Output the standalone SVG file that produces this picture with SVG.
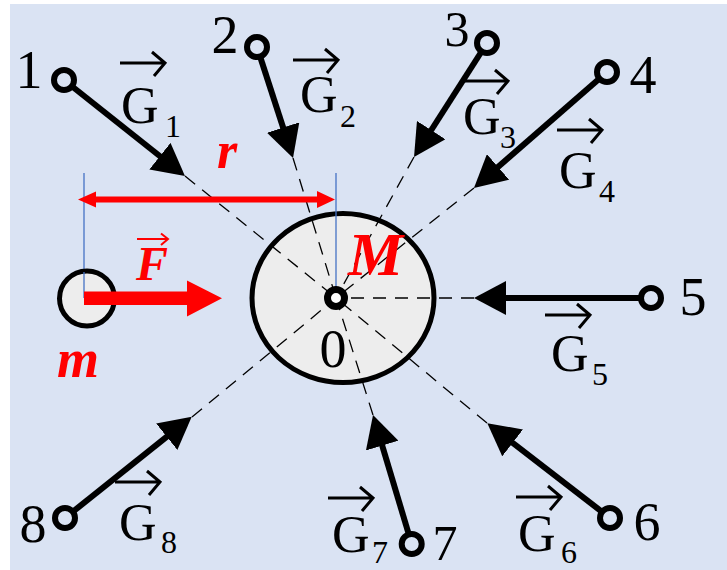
<svg xmlns="http://www.w3.org/2000/svg" xmlns:xlink="http://www.w3.org/1999/xlink" width="727" height="570" viewBox="0 0 727 570">
<style>
.lbl{font-family:"Liberation Serif","Times New Roman",serif;fill:#000}
.num{font-size:54px;text-anchor:middle}
.g{font-size:52px}
.sub{font-size:32px}
.red{font-family:"Liberation Serif","Times New Roman",serif;font-weight:bold;font-style:italic;fill:#FF0000}
.shaft{stroke:#000;stroke-width:6;fill:none;marker-end:url(#head)}
.dash{stroke:#000;stroke-width:1.3;stroke-dasharray:13 9;fill:none}
.pt{fill:#DAE3F3;stroke:#000;stroke-width:6}
.vec{fill:none;stroke:#000;stroke-width:3}
.blue{stroke:#4472C4;stroke-width:1.3}
</style>
<defs>
<marker id="head" markerUnits="userSpaceOnUse" markerWidth="34" markerHeight="34" refX="7" refY="17" orient="auto"><path d="M0,0 L32,17 L0,34 z" fill="#000"/></marker>
<path id="vec" d="M0,0 H45 M32,-11 L45,0 L34,13"/>
</defs>
<rect x="10" y="4" width="717" height="566" fill="#DAE3F3"/>

<g id="body-M">
<ellipse cx="343" cy="298" rx="91" ry="84.5" fill="#EDEDED" stroke="#000" stroke-width="5"/>
</g>

<g id="connectors">
<line class="dash" x1="185" y1="176" x2="336" y2="298"/>
<line class="dash" x1="293" y1="158" x2="336" y2="298"/>
<line class="dash" x1="414" y1="157" x2="336" y2="298"/>
<line class="dash" x1="474" y1="188" x2="336" y2="298"/>
<line class="dash" x1="474" y1="298" x2="336" y2="298"/>
<line class="dash" x1="487" y1="423" x2="336" y2="298"/>
<line class="dash" x1="373" y1="415" x2="336" y2="298"/>
<line class="dash" x1="192" y1="417" x2="336" y2="298"/>
<line class="shaft" x1="64" y1="80" x2="165.4" y2="160.5"/>
<line class="shaft" x1="257" y1="47" x2="285.3" y2="134.2"/>
<line class="shaft" x1="487" y1="43" x2="427.5" y2="136"/>
<line class="shaft" x1="607" y1="72" x2="492.8" y2="171.6"/>
<line class="shaft" x1="651" y1="298" x2="499" y2="298"/>
<line class="shaft" x1="610" y1="518" x2="507.1" y2="438.6"/>
<line class="shaft" x1="411.7" y1="544" x2="380.2" y2="438.9"/>
<line class="shaft" x1="65" y1="518" x2="172.2" y2="432.3"/>
</g>

<g id="guides">
<line class="blue" x1="84" y1="173" x2="84" y2="298"/>
<line class="blue" x1="336" y1="173" x2="336" y2="298"/>
</g>

<g id="center-0">
<circle cx="336" cy="298" r="8.5" fill="#fff" stroke="#000" stroke-width="7"/>
<text class="lbl num" x="333" y="367">0</text>
<text class="red" x="348" y="275" font-size="62">M</text>
</g>

<g id="point-1">
<circle class="pt" cx="64" cy="80" r="10"/>
<text class="lbl num" x="29" y="88">1</text>
<use xlink:href="#vec" class="vec" x="120" y="63"/>
<text class="lbl g" x="121" y="123">G</text><text class="lbl sub" x="165" y="137">1</text>
</g>

<g id="point-2">
<circle class="pt" cx="257" cy="47" r="10"/>
<text class="lbl num" x="225" y="53">2</text>
<use xlink:href="#vec" class="vec" x="293" y="60"/>
<text class="lbl g" x="300" y="112">G</text><text class="lbl sub" x="340" y="127">2</text>
</g>

<g id="point-3">
<circle class="pt" cx="487" cy="43" r="10"/>
<text class="lbl" x="457" y="46" font-size="50" text-anchor="middle">3</text>
<use xlink:href="#vec" class="vec" x="463" y="81"/>
<text class="lbl g" x="463" y="134">G</text><text class="lbl sub" x="500" y="148">3</text>
</g>

<g id="point-4">
<circle class="pt" cx="607" cy="72" r="10"/>
<text class="lbl num" x="643" y="93">4</text>
<use xlink:href="#vec" class="vec" x="557" y="130"/>
<text class="lbl g" x="559" y="188">G</text><text class="lbl sub" x="599" y="202">4</text>
</g>

<g id="point-5">
<circle class="pt" cx="651" cy="298" r="10"/>
<text class="lbl num" x="693" y="315">5</text>
<use xlink:href="#vec" class="vec" x="545" y="315"/>
<text class="lbl g" x="551" y="371">G</text><text class="lbl sub" x="592" y="385">5</text>
</g>

<g id="point-6">
<circle class="pt" cx="610" cy="518" r="10"/>
<text class="lbl num" x="647" y="540">6</text>
<use xlink:href="#vec" class="vec" x="516" y="497"/>
<text class="lbl g" x="518" y="551">G</text><text class="lbl sub" x="561" y="563">6</text>
</g>

<g id="point-7">
<circle class="pt" cx="411.7" cy="544" r="10"/>
<text class="lbl" x="445" y="560" font-size="50" text-anchor="middle">7</text>
<use xlink:href="#vec" class="vec" x="328" y="498"/>
<text class="lbl g" x="332" y="552">G</text><text class="lbl sub" x="372" y="563">7</text>
</g>

<g id="point-8">
<circle class="pt" cx="65" cy="518" r="10"/>
<text class="lbl num" x="33" y="542">8</text>
<use xlink:href="#vec" class="vec" x="115" y="482"/>
<text class="lbl g" x="119" y="540">G</text><text class="lbl sub" x="161" y="553">8</text>
</g>

<g id="mass-m">
<circle cx="87" cy="298.5" r="27.5" fill="#EDEDED" stroke="#000" stroke-width="5"/>
<line class="blue" x1="84" y1="272" x2="84" y2="298"/>
<polygon points="84,291.5 187,291.5 187,280.5 222,298.3 187,316.5 187,305 84,305" fill="#FF0000"/>
<path d="M137,239 H168 M161,233.5 L168,239 L161,245" fill="none" stroke="#FF0000" stroke-width="2"/>
<text class="red" x="136" y="280" font-size="48">F</text>
<text class="red" x="57" y="377" font-size="54">m</text>
</g>

<g id="distance-r">
<polygon points="78,199.5 96,191.5 96,196.5 317,196.5 317,191 335,199.5 317,208 317,202.5 96,202.5 96,207.5" fill="#FF0000"/>
<text class="red" x="217" y="168" font-size="52">r</text>
</g>
</svg>
